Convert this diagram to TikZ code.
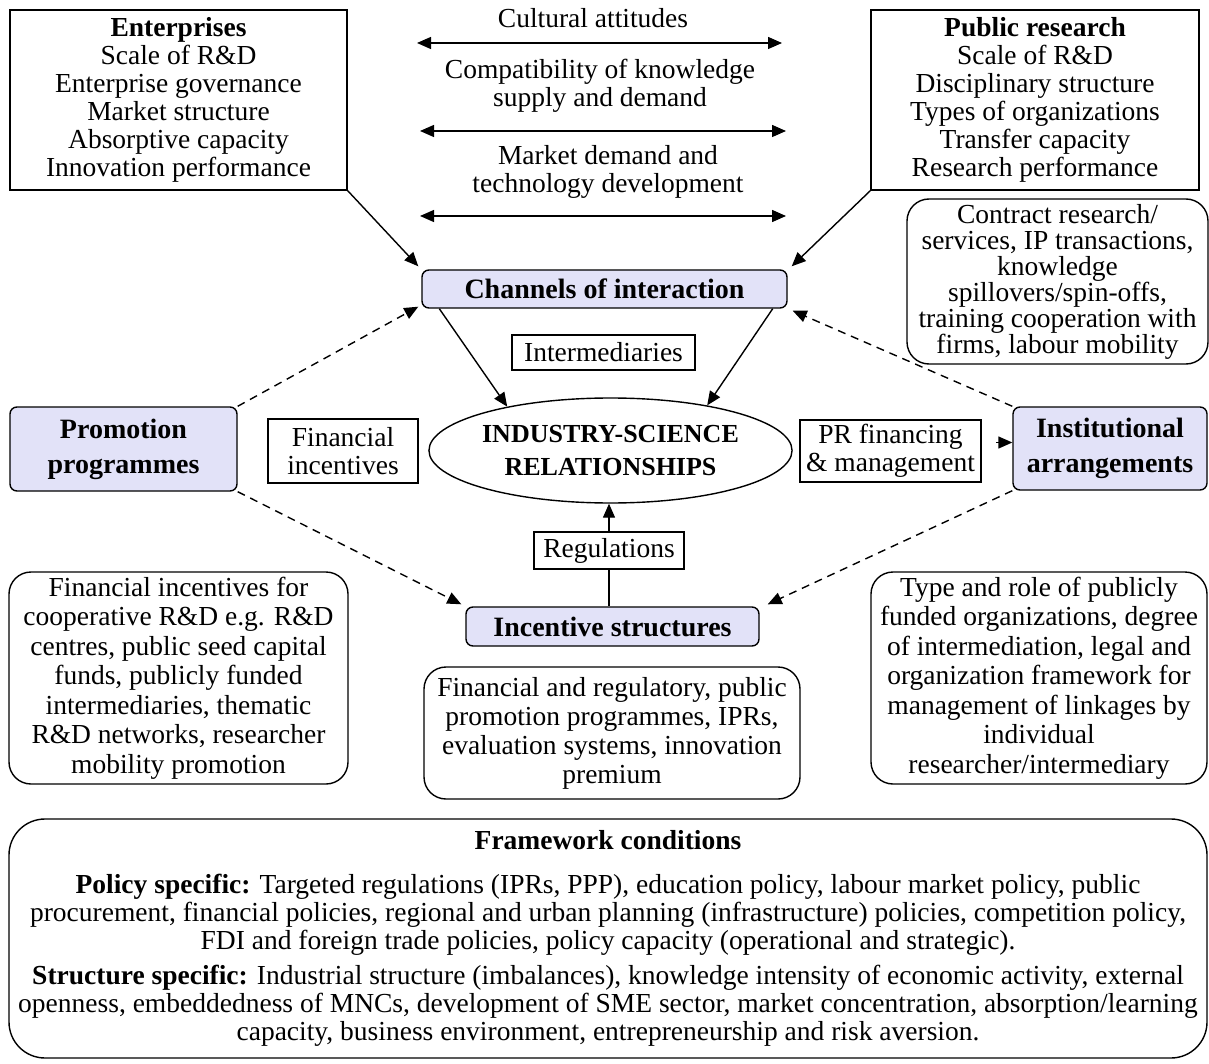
\documentclass[tikz,border=0pt]{standalone}
\usepackage{fontspec}
\setmainfont{Liberation Serif}
\usetikzlibrary{arrows.meta,shapes.geometric}
\definecolor{boxblue}{RGB}{226,226,248}
\tikzset{
  base/.style={font=\fontsize{27.5}{28}\selectfont, align=center, line width=1.4pt, inner sep=0pt},
  sqbox/.style={base, draw, rectangle},
  rbox/.style={base, draw, rounded corners=22pt},
  bbox/.style={base, draw, fill=boxblue, rounded corners=7pt, font=\bfseries\fontsize{28}{35}\selectfont},
  arr/.style={line width=1.4pt, -{Triangle[length=14pt,width=12pt]}},
  dasharr/.style={arr, dash pattern=on 8pt off 6pt},
  darr/.style={line width=1.4pt, {Triangle[length=14pt,width=12pt]}-{Triangle[length=14pt,width=12pt]}},
  plaintext/.style={font=\fontsize{27.5}{28}\selectfont, align=center, inner sep=0pt},
}
\begin{document}
\begin{tikzpicture}[x=1pt,y=-1pt]
\useasboundingbox (0,0) rectangle (1209,1064);
\fill[white] (0,0) rectangle (1209,1064);

% top boxes
\node[sqbox, minimum width=337pt, minimum height=180pt] (ent) at (178.5,100)
  {\textbf{Enterprises}\\Scale of R\&D\\Enterprise governance\\Market structure\\Absorptive capacity\\Innovation performance};
\node[sqbox, minimum width=328pt, minimum height=180pt] (pub) at (1035,100)
  {\textbf{Public research}\\Scale of R\&D\\Disciplinary structure\\Types of organizations\\Transfer capacity\\Research performance};

% middle top texts and double arrows
\node[plaintext] (cult) at (593,18) {Cultural attitudes};
\coordinate (c1l) at (417,43); \coordinate (c1r) at (782,43);
\draw[darr] (c1l) -- (c1r);
\node[plaintext] (comp) at (600,86) {Compatibility of knowledge\\supply and demand};
\coordinate (c2l) at (420,131); \coordinate (c2r) at (786,131);
\draw[darr] (c2l) -- (c2r);
\node[plaintext] (mark) at (608,172) {Market demand and\\technology development};
\coordinate (c3l) at (420,216); \coordinate (c3r) at (786,216);
\draw[darr] (c3l) -- (c3r);

% channels
\node[bbox, minimum width=365pt, minimum height=38pt] (chan) at (604.5,289) {Channels of interaction};
\node[rbox, minimum width=301pt, minimum height=165pt, font=\fontsize{27.5}{26}\selectfont] (contr) at (1057.5,281.5)
  {Contract research/\\services, IP transactions,\\knowledge\\spillovers/spin-offs,\\training cooperation with\\firms, labour mobility};
\node[sqbox, minimum width=183pt, minimum height=35pt] (inter) at (603.5,352.5) {Intermediaries};

% middle row
\node[bbox, minimum width=227pt, minimum height=84pt] (prom) at (123.5,449) {Promotion\\programmes};
\node[sqbox, minimum width=150pt, minimum height=64pt] (finc) at (343,451) {Financial\\incentives};
\node[base, draw, ellipse, minimum width=353pt, minimum height=105pt, font=\bfseries\fontsize{26}{33}\selectfont] (isr) at (610.5,450.5) {INDUSTRY-SCIENCE\\RELATIONSHIPS};
\node[sqbox, minimum width=181pt, minimum height=62pt] (prf) at (890.5,451) {PR financing\\\& management};
\node[bbox, minimum width=194pt, minimum height=83pt] (inst) at (1110,448.5) {Institutional\\arrangements};

\node[sqbox, minimum width=150pt, minimum height=37pt] (reg) at (609,550.5) {Regulations};
\node[bbox, minimum width=293pt, minimum height=39pt] (inc) at (612.5,626.5) {Incentive structures};

% bottom boxes
\node[rbox, minimum width=339pt, minimum height=212pt, font=\fontsize{27.5}{29.5}\selectfont] (lb) at (178.5,678)
  {Financial incentives for\\cooperative R\&D e.g. R\&D\\centres, public seed capital\\funds, publicly funded\\intermediaries, thematic\\R\&D networks, researcher\\mobility promotion};
\node[rbox, minimum width=376pt, minimum height=132pt, font=\fontsize{27.5}{29}\selectfont] (mb) at (612,733)
  {Financial and regulatory, public\\promotion programmes, IPRs,\\evaluation systems, innovation\\premium};
\node[rbox, minimum width=336pt, minimum height=212pt, font=\fontsize{27.5}{29.5}\selectfont] (rb) at (1039,678)
  {Type and role of publicly\\funded organizations, degree\\of intermediation, legal and\\organization framework for\\management of linkages by\\individual\\researcher/intermediary};

% framework
\node[base, draw, rounded corners=36pt, minimum width=1198pt, minimum height=239pt, font=\fontsize{27.5}{28}\selectfont] (fw) at (608,938.5)
  {\textbf{Framework conditions}\\[16pt]
   \textbf{Policy specific:} Targeted regulations (IPRs, PPP), education policy, labour market policy, public\\
   procurement, financial policies, regional and urban planning (infrastructure) policies, competition policy,\\
   FDI and foreign trade policies, policy capacity (operational and strategic).\\[7pt]
   \textbf{Structure specific:} Industrial structure (imbalances), knowledge intensity of economic activity, external\\
   openness, embeddedness of MNCs, development of SME sector, market concentration, absorption/learning\\
   capacity, business environment, entrepreneurship and risk aversion.};

% connectors
\draw[arr] (ent.south east) -- ([xshift=-3pt,yshift=3pt]chan.north west);
\draw[arr] (pub.south west) -- ([xshift=4pt,yshift=3pt]chan.north east);
\draw[arr] ([xshift=18pt]chan.south west) -- (isr.157);
\draw[arr] ([xshift=-15pt]chan.south east) -- (isr.25);
\draw[dasharr] (prom.north east) -- ([xshift=-3pt,yshift=2pt]chan.south west);
\draw[dasharr] (prom.south east) -- ([xshift=-4pt,yshift=2pt]inc.north west);
\draw[dasharr] (inst.north west) -- ([xshift=5pt,yshift=-2pt]chan.south east);
\draw[dasharr] (inst.south west) -- ([xshift=8pt,yshift=2pt]inc.north east);
\coordinate (orph) at ([xshift=-16pt,yshift=6pt]inst.west);
\draw[arr] (orph) -- ([yshift=6pt]inst.west);
\draw[line width=1.4pt] (reg.south) -- (reg.south |- inc.north);
\draw[arr] (reg.north) -- (reg.north |- isr.south);
\end{tikzpicture}
\end{document}
